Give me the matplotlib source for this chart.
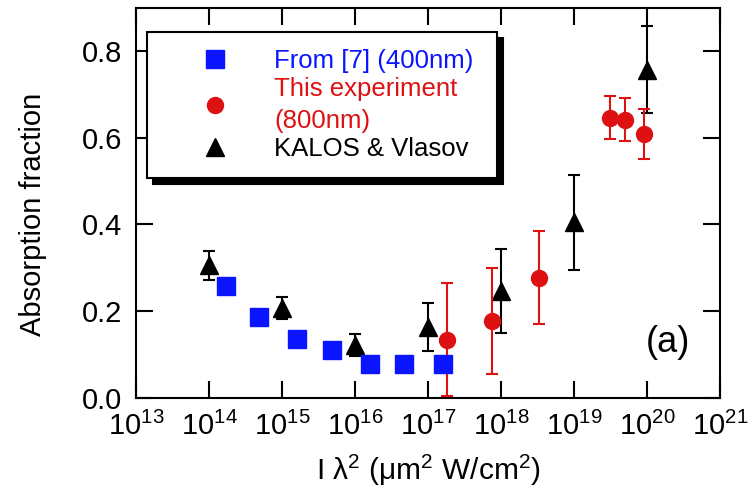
import numpy as np
import matplotlib
matplotlib.use('Agg')
import matplotlib.pyplot as plt
from matplotlib.lines import Line2D

plt.rcParams['font.family'] = ['Liberation Sans', 'DejaVu Sans']
plt.rcParams['mathtext.fontset'] = 'custom'
plt.rcParams['mathtext.rm'] = 'Liberation Sans'
plt.rcParams['mathtext.it'] = 'Liberation Sans'
plt.rcParams['mathtext.default'] = 'regular'

# Blue squares: data from [7] at 400 nm
ref7_x = [1.7e14, 4.8e14, 1.6e15, 4.8e15, 1.6e16, 4.7e16, 1.6e17]
ref7_y = [0.257, 0.186, 0.135, 0.109, 0.077, 0.077, 0.077]

# Red circles: this experiment at 800 nm
exp_x = [1.8e17, 7.5e17, 3.3e18, 3.1e19, 4.9e19, 9.0e19]
exp_y = [0.134, 0.177, 0.277, 0.646, 0.642, 0.608]
exp_err = [0.13, 0.122, 0.107, 0.05, 0.05, 0.058]

# Black triangles: KALOS & Vlasov simulations
sim_x = [1e14, 1e15, 1e16, 1e17, 1e18, 1e19, 1e20]
sim_y = [0.305, 0.207, 0.121, 0.163, 0.245, 0.405, 0.757]
sim_err = [0.033, 0.025, 0.025, 0.055, 0.097, 0.11, 0.10]

blue = '#0a14ff'
red = '#dd1111'

fig = plt.figure(figsize=(7.51, 4.92), dpi=100)
ax = fig.add_axes([0.181, 0.192, 0.778, 0.792])

ax.errorbar(sim_x, sim_y, yerr=sim_err, fmt='^', color='black', ms=13,
            elinewidth=1.5, capsize=4.5, capthick=1.5, zorder=3)
ax.errorbar(exp_x, exp_y, yerr=exp_err, fmt='o', color=red, ms=11.5,
            elinewidth=1.5, capsize=4.5, capthick=1.5, zorder=4)
ax.plot(ref7_x, ref7_y, 's', color=blue, ms=13.5, zorder=5)

ax.set_xscale('log')
ax.set_xlim(1e13, 1e21)
ax.set_ylim(0, 0.9)
ax.set_xticks([10.0**k for k in range(13, 22)])
ax.set_yticks([0.0, 0.2, 0.4, 0.6, 0.8])
ax.set_yticklabels(['0.0', '0.2', '0.4', '0.6', '0.8'])
ax.minorticks_on()
ax.yaxis.set_minor_locator(matplotlib.ticker.NullLocator())

for side in ax.spines.values():
    side.set_linewidth(1.5)
ax.tick_params(which='both', direction='in', top=True, right=True, width=1.5)
ax.tick_params(which='major', length=12, labelsize=21)
ax.tick_params(axis='y', which='major', pad=10)
ax.tick_params(axis='x', which='major', pad=10)
ax.tick_params(which='minor', length=6)

ax.set_ylabel('Absorption fraction', fontsize=21)
ax.yaxis.set_label_coords(-0.153, 0.47)
ax.set_xlabel(r'I $\lambda^2$ ($\mu$m$^2$ W/cm$^2$)', fontsize=21.5, labelpad=9)

ax.text(0.911, 0.14, '(a)', transform=ax.transAxes, fontsize=26,
        ha='center', va='center')

handles = [
    Line2D([], [], ls='none', marker='s', color=blue, ms=13.5),
    Line2D([], [], ls='none', marker='o', color=red, ms=11.5),
    Line2D([], [], ls='none', marker='^', color='black', ms=13),
]
labels = ['From [7] (400nm)', 'This experiment\n(800nm)', 'KALOS & Vlasov']
leg = ax.legend(handles, labels, loc='upper left',
                bbox_to_anchor=(0.019, 0.576, 0.599, 0.362), mode='expand',
                fontsize=18.5, frameon=True, fancybox=False, framealpha=1,
                edgecolor='black', handlelength=4.0, handletextpad=0.3,
                borderpad=0.65, labelspacing=0.17, borderaxespad=0,
                labelcolor=[blue, red, 'black'],
                shadow={'ox': 4.5, 'oy': -4.5, 'facecolor': 'black',
                        'edgecolor': 'black', 'alpha': 1})
leg.get_frame().set_linewidth(1.5)
for t in leg.get_texts():
    t.set_linespacing(1.4)

fig.savefig('out.png', dpi=100)
